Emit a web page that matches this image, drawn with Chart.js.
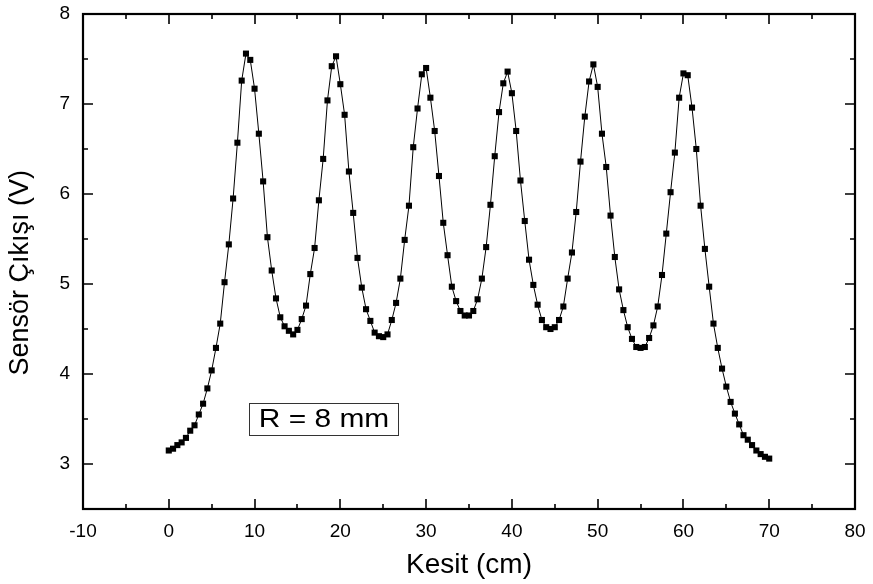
<!DOCTYPE html>
<html>
<head>
<meta charset="utf-8">
<script src="https://cdn.jsdelivr.net/npm/chart.js@4.4.0/dist/chart.umd.min.js"></script>
<style>
  html, body { margin: 0; padding: 0; background: #fff; }
  #wrap { width: 873px; height: 584px; }
</style>
</head>
<body>
<div id="wrap"><canvas id="sensorChart" width="873" height="584"></canvas></div>
<script>
// Data (Kesit in cm, output in V)
const kesit = [
  0, 0.5, 1, 1.5, 2, 2.5, 3, 3.5, 4, 4.5, 5, 5.5, 6, 6.5, 7, 7.5, 8, 8.5, 9, 9.5,
  10, 10.5, 11, 11.5, 12, 12.5, 13, 13.5, 14, 14.5, 15, 15.5, 16, 16.5, 17, 17.5, 18, 18.5, 19, 19.5,
  20, 20.5, 21, 21.5, 22, 22.5, 23, 23.5, 24, 24.5, 25, 25.5, 26, 26.5, 27, 27.5, 28, 28.5, 29, 29.5,
  30, 30.5, 31, 31.5, 32, 32.5, 33, 33.5, 34, 34.5, 35, 35.5, 36, 36.5, 37, 37.5, 38, 38.5, 39, 39.5,
  40, 40.5, 41, 41.5, 42, 42.5, 43, 43.5, 44, 44.5, 45, 45.5, 46, 46.5, 47, 47.5, 48, 48.5, 49, 49.5,
  50, 50.5, 51, 51.5, 52, 52.5, 53, 53.5, 54, 54.5, 55, 55.5, 56, 56.5, 57, 57.5, 58, 58.5, 59, 59.5,
  60, 60.5, 61, 61.5, 62, 62.5, 63, 63.5, 64, 64.5, 65, 65.5, 66, 66.5, 67, 67.5, 68, 68.5, 69, 69.5,
  70
];
const sensorOut = [
  3.15, 3.17, 3.21, 3.24, 3.29, 3.37, 3.43, 3.55, 3.67, 3.84, 4.04, 4.29, 4.56, 5.02, 5.44, 5.95, 6.57, 7.26, 7.56, 7.49,
  7.17, 6.67, 6.14, 5.52, 5.15, 4.84, 4.63, 4.53, 4.48, 4.44, 4.49, 4.61, 4.76, 5.11, 5.40, 5.93, 6.39, 7.04, 7.42, 7.53,
  7.22, 6.88, 6.25, 5.79, 5.29, 4.96, 4.72, 4.59, 4.46, 4.42, 4.41, 4.44, 4.60, 4.79, 5.06, 5.49, 5.87, 6.52, 6.95, 7.33,
  7.40, 7.07, 6.70, 6.20, 5.68, 5.32, 4.97, 4.81, 4.70, 4.65, 4.65, 4.70, 4.83, 5.06, 5.41, 5.88, 6.42, 6.91, 7.23, 7.36,
  7.12, 6.70, 6.15, 5.70, 5.27, 4.99, 4.77, 4.60, 4.52, 4.50, 4.52, 4.60, 4.75, 5.06, 5.35, 5.80, 6.36, 6.86, 7.25, 7.44,
  7.19, 6.67, 6.30, 5.76, 5.30, 4.94, 4.71, 4.52, 4.39, 4.30, 4.29, 4.30, 4.40, 4.54, 4.75, 5.10, 5.56, 6.02, 6.46, 7.07,
  7.34, 7.32, 6.96, 6.50, 5.87, 5.39, 4.97, 4.56, 4.29, 4.06, 3.86, 3.69, 3.56, 3.44, 3.32, 3.27, 3.21, 3.15, 3.11, 3.08,
  3.06
];
const xTickLabels = [-10, 0, 10, 20, 30, 40, 50, 60, 70, 80];
const yTickLabels = [3, 4, 5, 6, 7, 8];
const noteText = 'R = 8 mm';

// inward ticks on all four sides + frame
const frameTicks = {
  id: 'frameTicks',
  afterDraw(chart) {
    const { ctx, chartArea: a, scales: { x, y } } = chart;
    ctx.save();
    ctx.strokeStyle = '#000';
    ctx.lineWidth = 1.6;
    ctx.beginPath();
    x.ticks.forEach((t) => {
      const px = Math.round(x.getPixelForValue(t.value));
      const len = xTickLabels.includes(t.value) ? 10 : 5;
      ctx.moveTo(px, a.bottom); ctx.lineTo(px, a.bottom - len);
      ctx.moveTo(px, a.top); ctx.lineTo(px, a.top + len);
    });
    y.ticks.forEach((t) => {
      const py = Math.round(y.getPixelForValue(t.value));
      const len = yTickLabels.includes(t.value) ? 10 : 5;
      ctx.moveTo(a.left, py); ctx.lineTo(a.left + len, py);
      ctx.moveTo(a.right, py); ctx.lineTo(a.right - len, py);
    });
    ctx.stroke();
    ctx.lineWidth = 2.2;
    ctx.strokeRect(a.left, a.top, a.right - a.left, a.bottom - a.top);
    ctx.restore();
  }
};

// the "R = 8 mm" note in a box
const noteBox = {
  id: 'noteBox',
  afterDraw(chart) {
    const { ctx, scales: { x, y } } = chart;
    const cx = x.getPixelForValue(18.1);
    const cy = y.getPixelForValue(3.5);
    ctx.save();
    ctx.strokeStyle = '#333';
    ctx.lineWidth = 1;
    ctx.strokeRect(Math.round(cx - 75) + 0.5, Math.round(cy - 16) + 0.5, 149, 32);
    ctx.translate(cx, cy + 1);
    ctx.scale(1.15, 1);
    ctx.fillStyle = '#000';
    ctx.font = '26px "Liberation Sans", Arial, sans-serif';
    ctx.textAlign = 'center';
    ctx.textBaseline = 'middle';
    ctx.fillText(noteText, 0, 0);
    ctx.restore();
  }
};

const ctx = document.getElementById('sensorChart').getContext('2d');
new Chart(ctx, {
  type: 'scatter',
  data: {
    datasets: [{
      data: kesit.map((k, i) => ({ x: k, y: sensorOut[i] })),
      showLine: true,
      borderColor: '#000',
      borderWidth: 1,
      backgroundColor: '#000',
      pointStyle: 'rect',
      pointRadius: 4.3,
      pointBorderWidth: 0,
      pointHoverRadius: 4.3,
      tension: 0
    }]
  },
  options: {
    responsive: false,
    animation: false,
    devicePixelRatio: 1,
    layout: { padding: { top: 14, right: 18, left: 0, bottom: 0 } },
    plugins: {
      legend: { display: false },
      tooltip: { enabled: false }
    },
    scales: {
      x: {
        type: 'linear',
        min: -10,
        max: 80,
        grid: { display: false, drawTicks: false },
        border: { display: false },
        afterFit: (s) => { s.height = 75; s.paddingLeft = 0; s.paddingRight = 0; },
        ticks: {
          stepSize: 5,
          autoSkip: false,
          maxRotation: 0,
          padding: 11,
          color: '#000',
          font: { family: '"Liberation Sans", Arial, sans-serif', size: 19 },
          callback: (v) => (xTickLabels.includes(v) ? String(v) : '')
        },
        title: {
          display: true,
          text: 'Kesit (cm)',
          color: '#000',
          padding: { top: 0, bottom: 2 },
          font: { family: '"Liberation Sans", Arial, sans-serif', size: 28 }
        }
      },
      y: {
        min: 2.5,
        max: 8,
        grid: { display: false, drawTicks: false },
        border: { display: false },
        afterFit: (s) => { s.width = 83; s.paddingTop = 0; s.paddingBottom = 0; },
        ticks: {
          stepSize: 0.5,
          autoSkip: false,
          padding: 13,
          color: '#000',
          font: { family: '"Liberation Sans", Arial, sans-serif', size: 19 },
          callback: (v) => (yTickLabels.includes(v) ? String(v) : '')
        },
        title: {
          display: true,
          // trailing spaces nudge the rotated title down a little, like the reference
          text: 'Sensör Çıkışı (V)\u00a0\u00a0\u00a0',
          color: '#000',
          padding: { top: 4, bottom: 0 },
          font: { family: '"Liberation Sans", Arial, sans-serif', size: 27 }
        }
      }
    }
  },
  plugins: [frameTicks, noteBox]
});
</script>
</body>
</html>
